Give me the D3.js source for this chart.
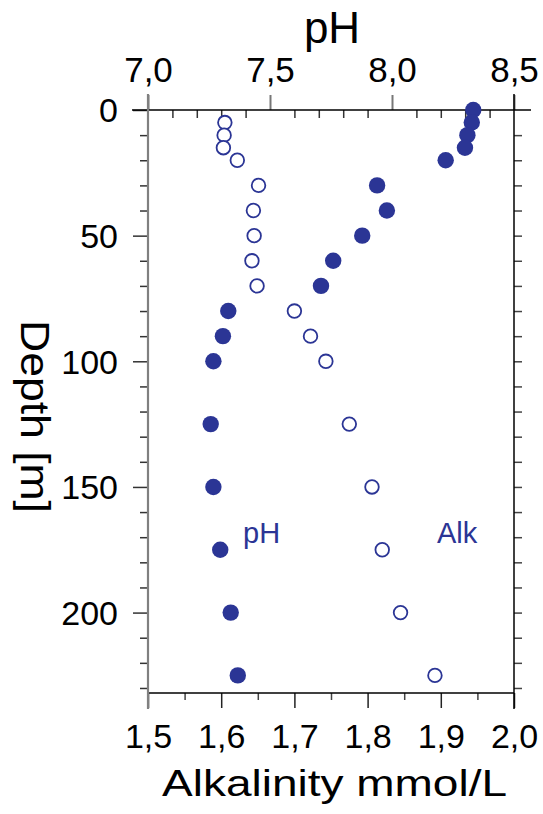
<!DOCTYPE html>
<html>
<head>
<meta charset="utf-8">
<script src="https://cdn.jsdelivr.net/npm/d3@7"></script>
<style>
  html, body { margin: 0; padding: 0; background: #fff; }
  svg { display: block; font-family: "Liberation Sans", Arial, Helvetica, sans-serif; }
</style>
</head>
<body>
<svg id="chart" width="543" height="814"></svg>
<script>
// ---- data ----
const depthPH = [0, 5, 10, 15, 20, 30, 40, 50, 60, 70, 80, 90, 100, 125, 150, 175, 200, 225];
const pHValues = [8.333, 8.327, 8.309, 8.299, 8.220, 7.939, 7.979, 7.878, 7.759, 7.709, 7.329, 7.307, 7.268, 7.257, 7.268, 7.296, 7.339, 7.368];
const depthAlk = [5, 10, 15, 20, 30, 40, 50, 60, 70, 80, 90, 100, 125, 150, 175, 200, 225];
const alkValues = [1.605, 1.604, 1.603, 1.622, 1.651, 1.644, 1.645, 1.642, 1.649, 1.700, 1.722, 1.743, 1.775, 1.806, 1.820, 1.845, 1.892];
const pHTicks = [7.0, 7.5, 8.0, 8.5];
const pHMinorTicks = [7.1, 7.2, 7.3, 7.4, 7.6, 7.7, 7.8, 7.9, 8.1, 8.2, 8.3, 8.4];
const alkTicks = [1.5, 1.6, 1.7, 1.8, 1.9, 2.0];
const alkMinorTicks = [1.55, 1.65, 1.75, 1.85, 1.95];
const depthTicks = [0, 50, 100, 150, 200];
const depthMinorTicks = [10, 20, 30, 40, 60, 70, 80, 90, 110, 120, 130, 140, 160, 170, 180, 190, 210, 220, 230];
const depthAllTicks = [0,10,20,30,40,50,60,70,80,90,100,110,120,130,140,150,160,170,180,190,200,210,220,230];

// ---- layout ----
const L = 148, R = 514, T = 110, B = 693;
const navy = "#2b3595";
const fmt = d => d.toFixed(1).replace(".", ",");

const svg = d3.select("#chart");
const xPH = d3.scaleLinear().domain([7.0, 8.5]).range([L, R]);
const xAlk = d3.scaleLinear().domain([1.5, 2.0]).range([L, R]);
const y = d3.scaleLinear().domain([0, 232]).range([T, B]);

function styleAxis(g, color, width) {
  g.select(".domain").remove();
  g.selectAll(".tick line").attr("stroke", color).attr("stroke-width", width);
}

// top axis (pH): major outward, minor inward
const gTop = svg.append("g").attr("transform", `translate(0,${T})`)
  .call(d3.axisTop(xPH).tickValues(pHTicks).tickSize(15).tickFormat(fmt));
styleAxis(gTop, "#777", 2);
gTop.selectAll(".tick text").attr("y", 82 - T).attr("dy", 0)
  .attr("font-size", 35).attr("fill", "#000").attr("font-family", "Liberation Sans, Arial, sans-serif");
const gTopMinor = svg.append("g").attr("transform", `translate(0,${T})`)
  .call(d3.axisTop(xPH).tickValues(pHMinorTicks).tickSize(-8).tickFormat(""));
styleAxis(gTopMinor, "#333", 1.5);

// bottom axis (alkalinity)
const gBot = svg.append("g").attr("transform", `translate(0,${B})`)
  .call(d3.axisBottom(xAlk).tickValues(alkTicks).tickSize(15).tickFormat(fmt));
styleAxis(gBot, "#222", 1.5);
gBot.selectAll(".tick text").attr("y", 748 - B).attr("dy", 0)
  .attr("font-size", 34).attr("fill", "#000").attr("font-family", "Liberation Sans, Arial, sans-serif");
const gBotMinor = svg.append("g").attr("transform", `translate(0,${B})`)
  .call(d3.axisBottom(xAlk).tickValues(alkMinorTicks).tickSize(7).tickFormat(""));
styleAxis(gBotMinor, "#444", 1.5);

// left axis (depth)
const gLeft = svg.append("g").attr("transform", `translate(${L},0)`)
  .call(d3.axisLeft(y).tickValues(depthTicks).tickSize(15).tickFormat(d3.format("d")));
styleAxis(gLeft, "#333", 1.5);
gLeft.selectAll(".tick text").attr("x", -30).attr("dy", "0.35em")
  .attr("font-size", 34).attr("fill", "#000").attr("font-family", "Liberation Sans, Arial, sans-serif");
const gLeftMinor = svg.append("g").attr("transform", `translate(${L},0)`)
  .call(d3.axisLeft(y).tickValues(depthMinorTicks).tickSize(8).tickFormat(""));
styleAxis(gLeftMinor, "#333", 1.5);

// right axis (depth, no labels)
const gRight = svg.append("g").attr("transform", `translate(${R},0)`)
  .call(d3.axisRight(y).tickValues(depthAllTicks.slice(1)).tickSize(8).tickFormat(""));
styleAxis(gRight, "#444", 1.5);

// frame lines
svg.append("line").attr("x1", 132).attr("x2", 531).attr("y1", T).attr("y2", T)
  .attr("stroke", "#000").attr("stroke-width", 1.5);
svg.append("line").attr("x1", L).attr("x2", R).attr("y1", B).attr("y2", B)
  .attr("stroke", "#000").attr("stroke-width", 1.5);
svg.append("line").attr("x1", L).attr("x2", L).attr("y1", 94).attr("y2", 709)
  .attr("stroke", "#808080").attr("stroke-width", 2.2);
svg.append("line").attr("x1", R).attr("x2", R).attr("y1", 94).attr("y2", 709)
  .attr("stroke", "#000").attr("stroke-width", 1.5);

// data: pH filled, alkalinity open
svg.append("g").selectAll("circle").data(depthAlk.map((d, i) => ({d, v: alkValues[i]})))
  .join("circle")
  .attr("cx", p => xAlk(p.v)).attr("cy", p => y(p.d)).attr("r", 6.8)
  .attr("fill", "#fff").attr("stroke", navy).attr("stroke-width", 1.8);
svg.append("g").selectAll("circle").data(depthPH.map((d, i) => ({d, v: pHValues[i]})))
  .join("circle")
  .attr("cx", p => xPH(p.v)).attr("cy", p => y(p.d)).attr("r", 8.2)
  .attr("fill", navy);

// in-plot labels
svg.append("text").attr("x", 243).attr("y", 543).attr("font-size", 29).attr("fill", navy).text("pH");
svg.append("text").attr("x", 437).attr("y", 543).attr("font-size", 29).attr("fill", navy).text("Alk");

// titles
svg.append("text").attr("x", 332).attr("y", 43).attr("text-anchor", "middle")
  .attr("font-size", 44).attr("fill", "#000").text("pH");
svg.append("text").attr("x", 162).attr("y", 796)
  .attr("font-size", 36).attr("fill", "#000")
  .attr("textLength", 345).attr("lengthAdjust", "spacingAndGlyphs")
  .text("Alkalinity mmol/L");
svg.append("text").attr("transform", "translate(21,320) rotate(90)")
  .attr("x", 0).attr("y", 0)
  .attr("font-size", 40).attr("fill", "#000")
  .attr("textLength", 193).attr("lengthAdjust", "spacingAndGlyphs")
  .text("Depth [m]");
</script>
</body>
</html>
